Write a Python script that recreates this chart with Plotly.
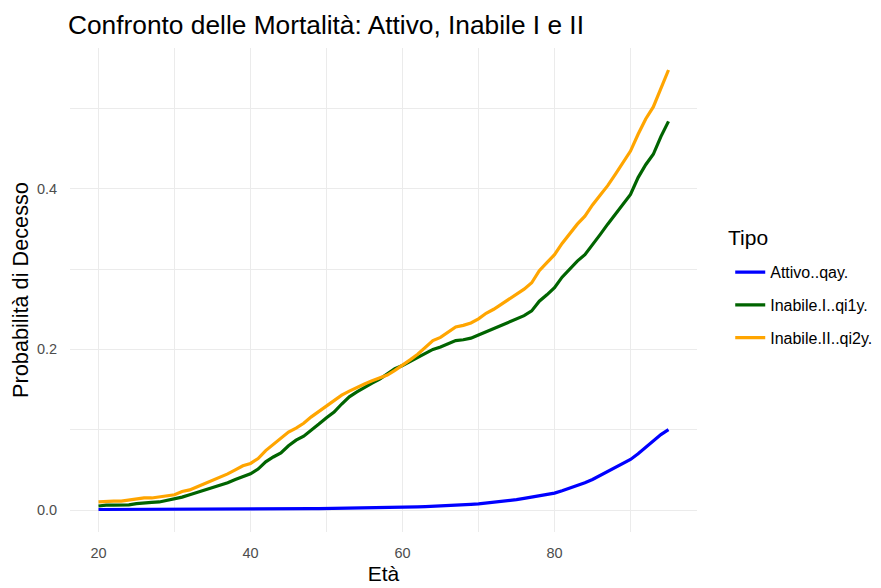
import plotly.graph_objects as go

eta = list(range(20, 96))

attivo_qay = [
    0.0006, 0.0006, 0.0006, 0.0006, 0.0006, 0.0006, 0.0006, 0.0006, 0.0006, 0.0006,
    0.0006, 0.0006, 0.0006, 0.0006, 0.0006, 0.0006, 0.0008, 0.0008, 0.0008, 0.0008,
    0.0008, 0.0008, 0.0008, 0.0008, 0.0008, 0.0008, 0.0008, 0.0015, 0.0016, 0.0017,
    0.0018, 0.0019, 0.0020, 0.0021, 0.0023, 0.0024, 0.0026, 0.0028, 0.0030, 0.0033,
    0.0035, 0.0037, 0.0040, 0.0043, 0.0046, 0.0050, 0.0055, 0.0060, 0.0065, 0.0070,
    0.0076, 0.0085, 0.0095, 0.0105, 0.0118, 0.0130, 0.0145, 0.0160, 0.0180, 0.0195,
    0.0210, 0.0240, 0.0270, 0.0300, 0.0340, 0.0380, 0.0430, 0.0480, 0.0540, 0.0590,
    0.0630, 0.0700, 0.0780, 0.0850, 0.0940, 0.1000,
]

inabile_i_qi1y = [
    0.005, 0.006, 0.006, 0.006, 0.0065, 0.008, 0.009, 0.0095, 0.010, 0.012,
    0.013, 0.016, 0.019, 0.022, 0.025, 0.028, 0.031, 0.034, 0.038, 0.042,
    0.045, 0.051, 0.060, 0.066, 0.071, 0.080, 0.087, 0.092, 0.099, 0.107,
    0.115, 0.122, 0.132, 0.141, 0.147, 0.153, 0.158, 0.163, 0.169, 0.176,
    0.180, 0.185, 0.190, 0.196, 0.200, 0.203, 0.207, 0.211, 0.212, 0.214,
    0.218, 0.222, 0.226, 0.229, 0.233, 0.237, 0.242, 0.248, 0.260, 0.268,
    0.277, 0.290, 0.300, 0.310, 0.318, 0.330, 0.343, 0.356, 0.368, 0.380,
    0.393, 0.414, 0.430, 0.443, 0.465, 0.484,
]

inabile_ii_qi2y = [
    0.010, 0.011, 0.011, 0.011, 0.012, 0.013, 0.015, 0.015, 0.016, 0.017,
    0.019, 0.023, 0.025, 0.029, 0.033, 0.037, 0.040, 0.045, 0.050, 0.055,
    0.058, 0.064, 0.074, 0.082, 0.089, 0.097, 0.102, 0.108, 0.116, 0.123,
    0.129, 0.136, 0.143, 0.148, 0.153, 0.157, 0.161, 0.164, 0.168, 0.174,
    0.180, 0.187, 0.194, 0.203, 0.211, 0.215, 0.222, 0.228, 0.230, 0.233,
    0.238, 0.245, 0.250, 0.256, 0.262, 0.269, 0.275, 0.283, 0.298, 0.308,
    0.318, 0.332, 0.344, 0.356, 0.366, 0.380, 0.392, 0.404, 0.418, 0.432,
    0.447, 0.468, 0.487, 0.502, 0.524, 0.548,
]

series_names = ["Attivo..qay.", "Inabile.I..qi1y.", "Inabile.II..qi2y."]
series_values = [attivo_qay, inabile_i_qi1y, inabile_ii_qi2y]
series_colors = ["#0000FF", "#006400", "#FFA500"]

fig = go.Figure()
for i, (name, vals, col) in enumerate(zip(series_names, series_values, series_colors)):
    fig.add_trace(go.Scatter(x=eta, y=vals, mode="lines", name=name,
                             legendgroup=f"g{i}",
                             line=dict(color=col, width=3.2)))

font_family = "Liberation Sans, Arial, sans-serif"
ymax = max(inabile_ii_qi2y)
xr = [20 - 0.05 * 75, 95 + 0.05 * 75]
yr = [0 - 0.05 * ymax, ymax + 0.05 * ymax]

W, H = 910, 588
fig.update_layout(
    width=W, height=H,
    margin=dict(l=62, r=W - 62 - 627, t=40, b=H - 40 - 484, autoexpand=False),
    paper_bgcolor="white", plot_bgcolor="white",
    font=dict(family=font_family, color="#000000"),
    title=dict(text="Confronto delle Mortalità: Attivo, Inabile I e II",
               x=60 / W, xref="container", xanchor="left",
               y=1 - 17 / H, yref="container", yanchor="middle",
               font=dict(size=26.3, color="#000000")),
    xaxis=dict(range=xr, tick0=20, dtick=20, showgrid=True, gridcolor="#EBEBEB",
               gridwidth=1.1, zeroline=False, showline=False,
               ticks="outside", ticklen=8, tickcolor="rgba(0,0,0,0)",
               automargin=False,
               tickfont=dict(size=14.5, color="#4D4D4D"),
               minor=dict(dtick=10, tick0=20, showgrid=True, gridcolor="#EBEBEB", gridwidth=0.6),
               title=dict(text="Età", font=dict(size=21), standoff=5)),
    yaxis=dict(range=yr, tick0=0, dtick=0.2, tickformat=".1f", showgrid=True,
               gridcolor="#EBEBEB", gridwidth=1.1, zeroline=False, showline=False,
               ticks="outside", ticklen=9, tickcolor="rgba(0,0,0,0)",
               automargin=False,
               tickfont=dict(size=14.5, color="#4D4D4D"),
               minor=dict(dtick=0.1, tick0=0, showgrid=True, gridcolor="#EBEBEB", gridwidth=0.6),
               title=dict(text="Probabilità di Decesso", font=dict(size=21.7), standoff=8)),
    legend=dict(x=1.053, xanchor="left", y=0.572, yanchor="top",
                font=dict(size=16), itemwidth=30,
                tracegroupgap=9, bgcolor="rgba(0,0,0,0)"),
    annotations=[dict(text="Tipo", x=1.046, y=0.6095, xref="paper", yref="paper",
                      xanchor="left", yanchor="middle", showarrow=False,
                      font=dict(size=21, color="#000000"))],
)

fig.write_html("out.html")
